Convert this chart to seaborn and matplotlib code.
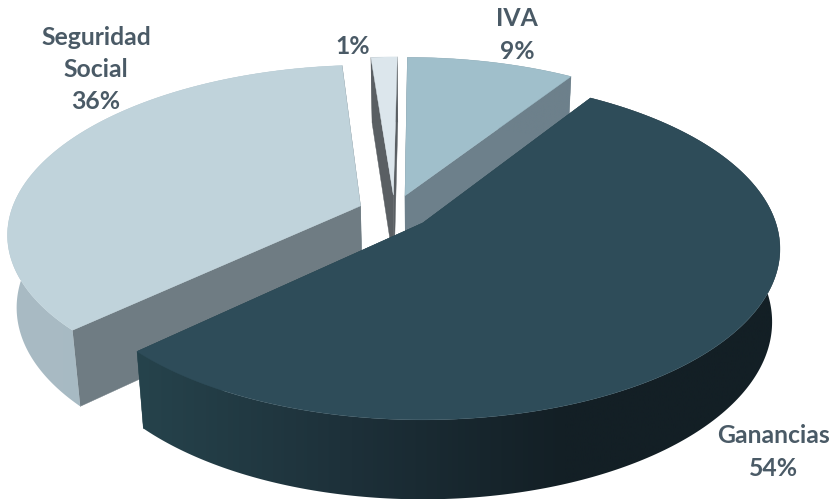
import numpy as np
import seaborn as sns
import matplotlib
matplotlib.use('Agg')
import matplotlib.pyplot as plt
from matplotlib.collections import PolyCollection
from matplotlib.patches import Polygon

sns.set_theme(style='white')
plt.rcParams['font.family'] = ['Lato', 'DejaVu Sans']

categorias = ['IVA', 'Ganancias', 'Seguridad\nSocial', '']
valores = [9.0, 53.9, 35.7, 1.4]
etiquetas = ['9%', '54%', '36%', '1%']

# colores por porcion: tapa, caras de corte, borde exterior
tapa = ['#a0bfcb', '#2e4c59', '#c0d3db', '#dce6ec']
corte = ['#6d808b', '#26434c', '#6f7c83', '#5a5f63']
borde = [['#6d808b', '#6d808b'],
         ['#26434c', '#1d3039', '#131f25', '#131f25'],
         ['#a9bbc4', '#a3b8c2'],
         ['#5a5f63', '#5a5f63']]
pos_etiquetas = [(517, 35), (774, 452), (96, 69.5), (353, 46)]

# proyeccion de la torta 3D (en pixeles de la imagen)
ox, oy = 423.5, 224
ax_r, ay_r, persp = 353, 167, 0.152
explode = 0.105
cx, cy = -0.083, 0.067
escala_base = 0.978


def proyectar(x, y):
    f = 1 / (1 + persp * y)
    return ox + ax_r * x * f, oy - ay_r * y * f, f


def base(px, py, f):
    return ox + (px - ox) * escala_base, py + 72 * f ** 0.6


fig, ax = plt.subplots(figsize=(8.31, 5.02), dpi=100)
fig.subplots_adjust(0, 0, 1, 1)
ax.axis('off')

# de atras hacia adelante
orden = [0, 3, 2, 1]
inicios = np.cumsum([0] + valores[:-1]) * 3.6
for n, i in enumerate(orden):
    z = 3 * n + 1
    a0 = np.radians(inicios[i])
    a1 = np.radians(inicios[i] + valores[i] * 3.6)
    medio = (a0 + a1) / 2
    dx = cx + explode * np.sin(medio)
    dy = cy + explode * np.cos(medio)
    ang = np.linspace(a0, a1, 240)
    px, py, f = proyectar(dx + np.sin(ang), dy + np.cos(ang))
    bx, by = base(px, py, f)
    apx, apy, apf = proyectar(dx, dy)
    abx, aby = base(apx, apy, apf)

    # caras de corte
    caras = [[(apx, apy), (px[0], py[0]), (bx[0], by[0]), (abx, aby)],
             [(apx, apy), (px[-1], py[-1]), (bx[-1], by[-1]), (abx, aby)]]
    ax.add_collection(PolyCollection(caras, facecolors=corte[i], edgecolors=corte[i], linewidths=0.3, zorder=z))

    # borde exterior: degrade en x recortado a la banda
    paleta = np.array(sns.blend_palette(borde[i], 256))[None, :, :]
    banda = Polygon(np.c_[np.r_[px, bx[::-1]], np.r_[py, by[::-1]]], transform=ax.transData,
                    facecolor='none', edgecolor='none')
    ax.add_patch(banda)
    img = ax.imshow(paleta, extent=(px.min(), px.max(), by.max(), py.min()), aspect='auto',
                    interpolation='bilinear', zorder=z + 1)
    img.set_clip_path(banda)

    # tapa
    ax.fill(np.r_[apx, px], np.r_[apy, py], color=tapa[i], lw=0.3, zorder=z + 2)

ax.set_xlim(0, 831)
ax.set_ylim(502, 0)

for cat, et, (x, y) in zip(categorias, etiquetas, pos_etiquetas):
    txt = f'{cat}\n{et}' if cat else et
    ax.text(x, y, txt, ha='center', va='center', fontsize=17.8, fontweight='bold',
            color='#4a5a66', linespacing=1.48, zorder=20)

fig.savefig('out.png', dpi=100)
